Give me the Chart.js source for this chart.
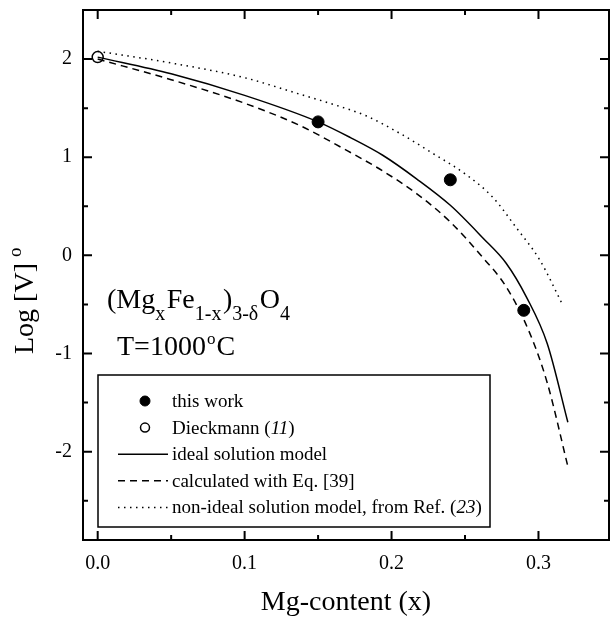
<!DOCTYPE html>
<html>
<head>
<meta charset="utf-8">
<script src="https://cdn.jsdelivr.net/npm/chart.js@4/dist/chart.umd.min.js"></script>
<style>
html, body { margin: 0; padding: 0; background: #fff; }
</style>
</head>
<body>
<canvas id="chart" width="610" height="618"></canvas>
<script>
// ideal solution model
var IDEAL_X = [0, 0.05, 0.10, 0.15, 0.172, 0.194, 0.217, 0.24, 0.262, 0.278, 0.292, 0.306, 0.32];
var IDEAL_Y = [2.02, 1.85, 1.63, 1.36, 1.20, 1.02, 0.78, 0.51, 0.18, -0.08, -0.43, -0.90, -1.70];
// calculated with Eq. [39]
var EQ39_X = [0, 0.05, 0.10, 0.138, 0.167, 0.194, 0.217, 0.24, 0.262, 0.278, 0.294, 0.306, 0.32];
var EQ39_Y = [2.0, 1.79, 1.55, 1.32, 1.09, 0.86, 0.63, 0.34, -0.02, -0.32, -0.79, -1.30, -2.15];
// non-ideal solution model, Ref. (23)
var NONIDEAL_X = [0, 0.05, 0.10, 0.138, 0.16, 0.183, 0.206, 0.228, 0.251, 0.269, 0.285, 0.301, 0.316];
var NONIDEAL_Y = [2.08, 1.96, 1.81, 1.64, 1.54, 1.42, 1.24, 1.04, 0.82, 0.59, 0.28, -0.05, -0.49];
// measured points
var THIS_WORK_X = [0.15, 0.24, 0.29];
var THIS_WORK_Y = [1.36, 0.77, -0.56];
var DIECKMANN_X = [0];
var DIECKMANN_Y = [2.02];

var X_LABELS = [0, 0.1, 0.2, 0.3];
var X_MINOR = [0.05, 0.15, 0.25];
var Y_LABELS = [-2, -1, 0, 1, 2];
var Y_MINOR = [-2.5, -1.5, -0.5, 0.5, 1.5];

var FONT = "'Liberation Serif', 'Times New Roman', serif";

function pts(xs, ys) {
	return xs.map(function (x, i) { return { x: x, y: ys[i] }; });
}

// frame, inward ticks, legend and labels
var decor = {
	id: 'decor',
	afterDatasetsDraw: function (chart) {
		var c = chart.ctx, a = chart.chartArea;
		var xs = chart.scales.x, ys = chart.scales.y;
		c.save();
		c.strokeStyle = '#000';
		c.fillStyle = '#000';

		c.lineWidth = 2;
		c.strokeRect(a.left, a.top, a.right - a.left, a.bottom - a.top);

		function xt(v, len) {
			var p = xs.getPixelForValue(v);
			c.beginPath();
			c.moveTo(p, a.bottom); c.lineTo(p, a.bottom - len);
			c.moveTo(p, a.top); c.lineTo(p, a.top + len);
			c.stroke();
		}
		function yt(v, len) {
			var p = ys.getPixelForValue(v);
			c.beginPath();
			c.moveTo(a.left, p); c.lineTo(a.left + len, p);
			c.moveTo(a.right, p); c.lineTo(a.right - len, p);
			c.stroke();
		}
		X_LABELS.forEach(function (v) { xt(v, 9); });
		X_MINOR.forEach(function (v) { xt(v, 5); });
		Y_LABELS.forEach(function (v) { yt(v, 9); });
		Y_MINOR.forEach(function (v) { yt(v, 5); });

		// y title
		c.save();
		c.translate(33, 354);
		c.rotate(-Math.PI / 2);
		c.font = '28px ' + FONT;
		c.textBaseline = 'alphabetic';
		c.fillText('Log [V]', 0, 0);
		var w = c.measureText('Log [V]').width;
		c.font = '19px ' + FONT;
		c.fillText('o', w + 6, -12);
		c.restore();

		// formula
		var x = 107, base = 308;
		var parts = [
			['(Mg', 0], ['x', 1], ['Fe', 0], ['1-x', 1], [')', 0], ['3-\u03b4', 1], ['O', 0], ['4', 1]
		];
		parts.forEach(function (p) {
			c.font = (p[1] ? '20px ' : '28px ') + FONT;
			c.fillText(p[0], x, base + (p[1] ? 12 : 0));
			x += c.measureText(p[0]).width + (p[1] ? 1.5 : 0);
		});

		c.font = '28px ' + FONT;
		c.fillText('T=1000', 117, 355);
		x = 117 + c.measureText('T=1000').width;
		c.font = '17px ' + FONT;
		c.fillText('o', x + 1, 344);
		x += c.measureText('o').width + 2;
		c.font = '28px ' + FONT;
		c.fillText('C', x, 355);

		// legend
		c.lineWidth = 1.5;
		c.fillStyle = '#fff';
		c.fillRect(98, 375, 392, 152);
		c.strokeRect(98, 375, 392, 152);
		c.fillStyle = '#000';
		var ds = chart.data.datasets;
		var rows = [
			{ d: ds[3], text: [['this work', 0]] },
			{ d: ds[4], text: [['Dieckmann (', 0], ['11', 1], [')', 0]] },
			{ d: ds[0], text: [['ideal solution model', 0]] },
			{ d: ds[1], text: [['calculated with Eq. [39]', 0]] },
			{ d: ds[2], text: [['non-ideal solution model, from Ref. (', 0], ['23', 1], [')', 0]] }
		];
		rows.forEach(function (r, i) {
			var y = 401 + i * 26.6;
			if (r.d.showLine) {
				c.save();
				c.lineWidth = r.d.borderWidth;
				c.setLineDash(r.d.borderDash || []);
				c.beginPath();
				c.moveTo(118, y); c.lineTo(168, y);
				c.stroke();
				c.restore();
			} else {
				c.beginPath();
				c.arc(145, y, r.d.pointRadius - 1, 0, Math.PI * 2);
				c.fillStyle = r.d.pointBackgroundColor;
				c.fill();
				c.lineWidth = r.d.pointBorderWidth;
				c.stroke();
				c.fillStyle = '#000';
			}
			var tx = 172;
			c.textBaseline = 'middle';
			r.text.forEach(function (t) {
				c.font = (t[1] ? 'italic ' : '') + '19px ' + FONT;
				c.fillText(t[0], tx, y + 1);
				tx += c.measureText(t[0]).width;
			});
			c.textBaseline = 'alphabetic';
		});

		c.restore();
	}
};

var ctx = document.getElementById('chart').getContext('2d');

new Chart(ctx, {
	type: 'scatter',
	data: {
		datasets: [
			{
				label: 'ideal solution model',
				data: pts(IDEAL_X, IDEAL_Y),
				showLine: true,
				borderColor: '#000',
				borderWidth: 1.5,
				pointRadius: 0,
				cubicInterpolationMode: 'monotone'
			},
			{
				label: 'calculated with Eq. [39]',
				data: pts(EQ39_X, EQ39_Y),
				showLine: true,
				borderColor: '#000',
				borderWidth: 1.5,
				borderDash: [7, 5],
				pointRadius: 0,
				cubicInterpolationMode: 'monotone'
			},
			{
				label: 'non-ideal solution model, from Ref. (23)',
				data: pts(NONIDEAL_X, NONIDEAL_Y),
				showLine: true,
				borderColor: '#000',
				borderWidth: 1.5,
				borderDash: [1.5, 4.5],
				pointRadius: 0,
				cubicInterpolationMode: 'monotone'
			},
			{
				label: 'this work',
				data: pts(THIS_WORK_X, THIS_WORK_Y),
				showLine: false,
				pointRadius: 6,
				pointBackgroundColor: '#000',
				pointBorderColor: '#000',
				pointBorderWidth: 1
			},
			{
				label: 'Dieckmann (11)',
				data: pts(DIECKMANN_X, DIECKMANN_Y),
				showLine: false,
				pointRadius: 5.5,
				pointBackgroundColor: '#fff',
				pointBorderColor: '#000',
				pointBorderWidth: 1.5
			}
		]
	},
	options: {
		responsive: false,
		animation: false,
		layout: { autoPadding: false, padding: { top: 10, right: 1, left: 0, bottom: 0 } },
		plugins: {
			legend: { display: false },
			tooltip: { enabled: false }
		},
		scales: {
			x: {
				type: 'linear',
				min: -0.01,
				max: 0.348,
				afterFit: function (s) {
					s.height = 78;
					s.paddingLeft = 0;
					s.paddingRight = 0;
				},
				afterBuildTicks: function (s) {
					s.ticks = X_LABELS.map(function (v) { return { value: v }; });
				},
				grid: { display: false, drawTicks: false },
				border: { display: false },
				ticks: {
					padding: 12,
					color: '#000',
					font: { family: FONT, size: 20 },
					callback: function (v) { return Number(v).toFixed(1); }
				},
				title: {
					display: true,
					text: 'Mg-content (x)',
					color: '#000',
					font: { family: FONT, size: 28, lineHeight: 1 },
					padding: { top: 4, bottom: 1 }
				}
			},
			y: {
				type: 'linear',
				min: -2.9,
				max: 2.5,
				afterFit: function (s) {
					s.width = 83;
					s.paddingTop = 0;
					s.paddingBottom = 0;
				},
				afterBuildTicks: function (s) {
					s.ticks = Y_LABELS.map(function (v) { return { value: v }; });
				},
				grid: { display: false, drawTicks: false },
				border: { display: false },
				ticks: {
					padding: 11,
					color: '#000',
					font: { family: FONT, size: 20 },
					callback: function (v) { return String(v); }
				}
			}
		}
	},
	plugins: [decor]
});
</script>
</body>
</html>
